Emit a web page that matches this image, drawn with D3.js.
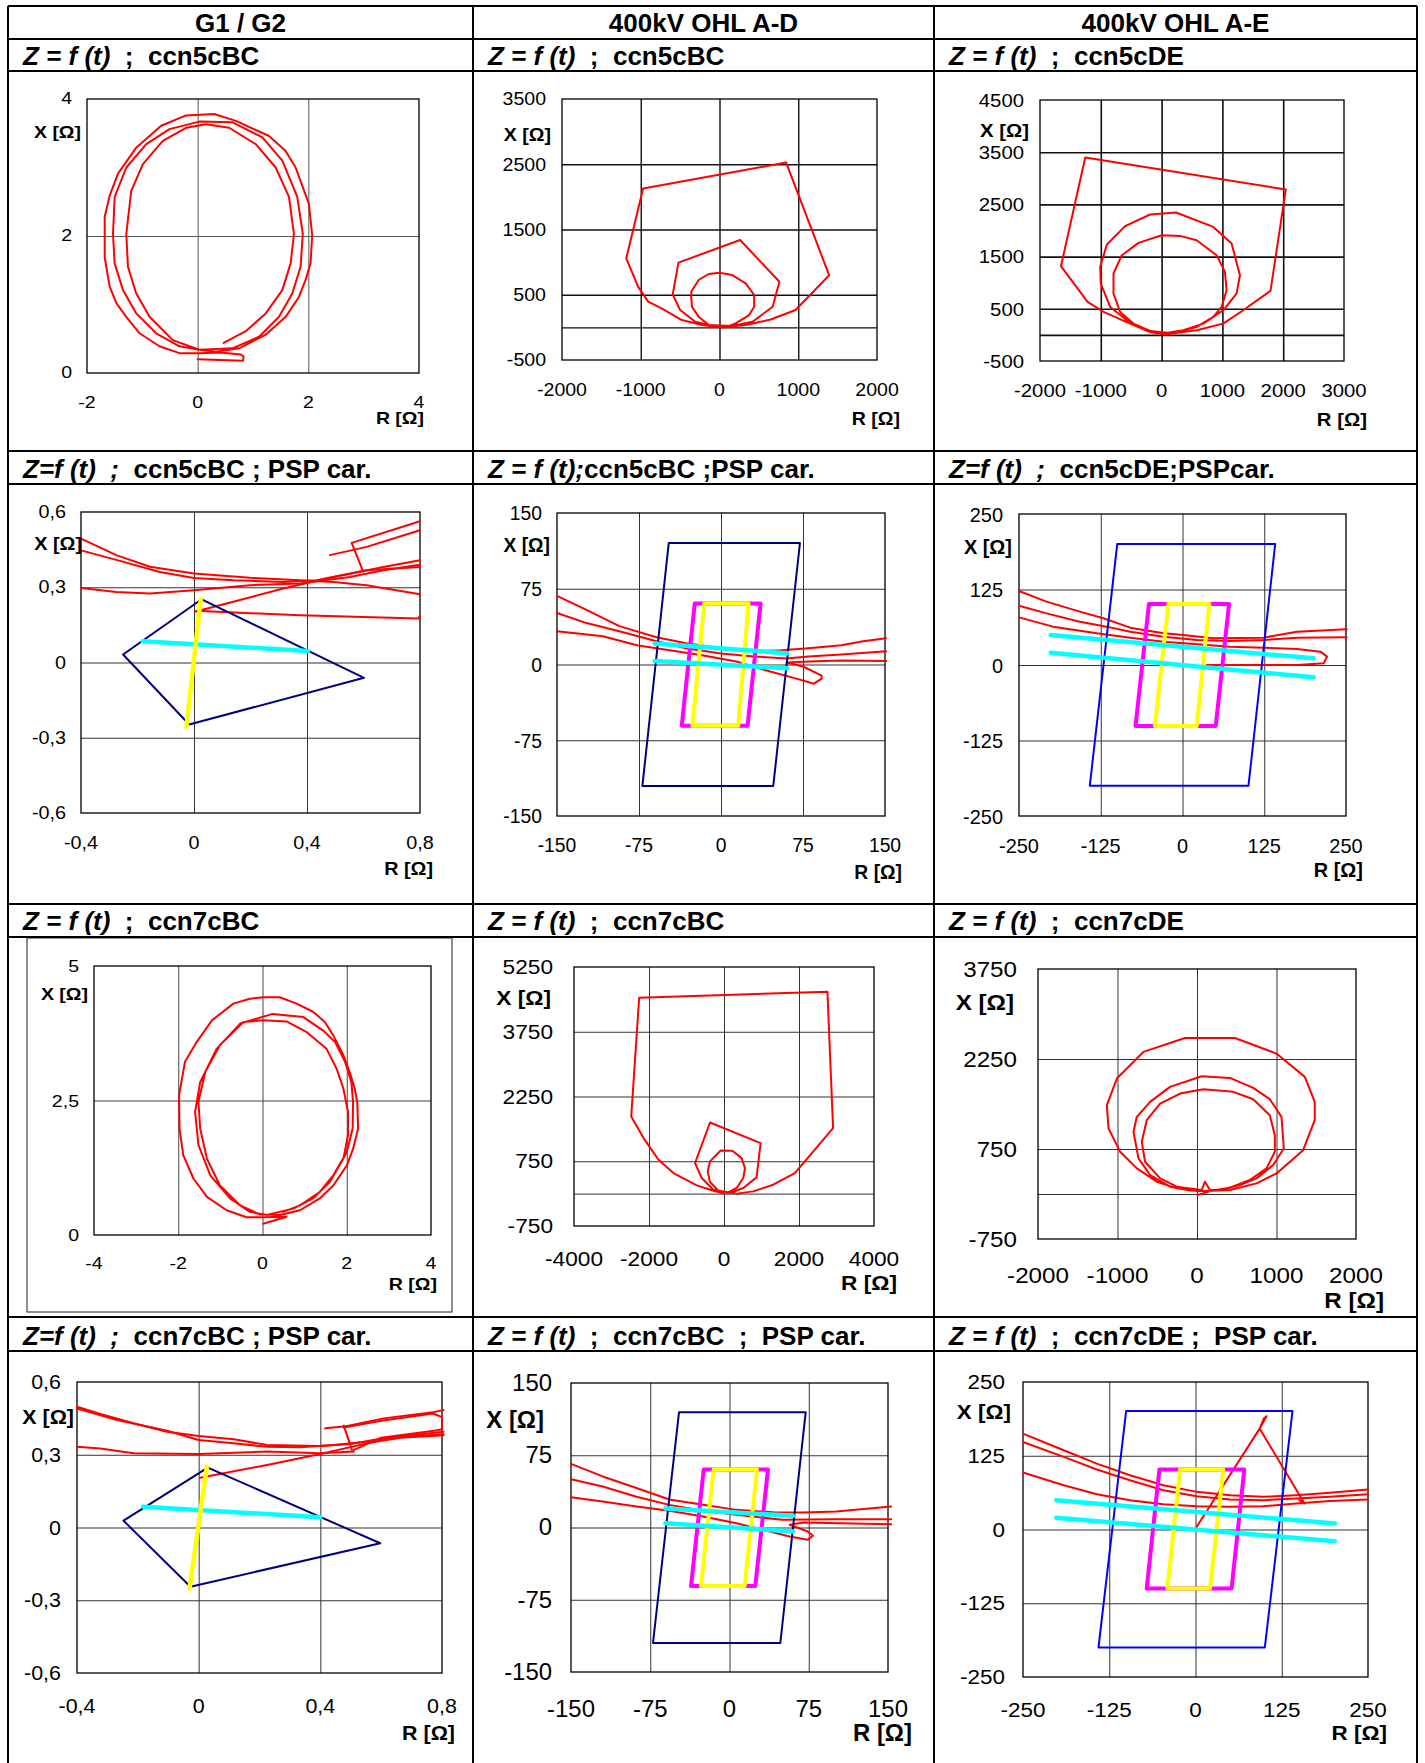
<!DOCTYPE html>
<html lang="en">
<head>
<meta charset="UTF-8">
<title>Z = f (t)</title>
<script src="https://d3js.org/d3.v7.min.js"></script>
<style>
  body { margin: 0; background: #fff; }
  svg text { font-family: "Liberation Sans", Arial, sans-serif; fill: #000; }
</style>
</head>
<body>
<script>
// ---- table texts
const colTitles = ["G1 / G2", "400kV OHL A-D", "400kV OHL A-E"];
const subTitles = [
  ["Z = f (t)", "  ;  ccn5cBC"], ["Z = f (t)", "  ;  ccn5cBC"], ["Z = f (t)", "  ;  ccn5cDE"],
  ["Z=f (t)  ;", "  ccn5cBC ; PSP car."], ["Z = f (t);", "ccn5cBC ;PSP car."], ["Z=f (t)  ;", "  ccn5cDE;PSPcar."],
  ["Z = f (t)", "  ;  ccn7cBC"], ["Z = f (t)", "  ;  ccn7cBC"], ["Z = f (t)", "  ;  ccn7cDE"],
  ["Z=f (t)  ;", "  ccn7cBC ; PSP car."], ["Z = f (t)", "  ;  ccn7cBC  ;  PSP car."], ["Z = f (t)", "  ;  ccn7cDE ;  PSP car."]
];

// ---- tick values
const p11_xTicks = [-2, 0, 2, 4],            p11_yTicks = [0, 2, 4];
const p12_xTicks = [-2000, -1000, 0, 1000, 2000], p12_yTicks = [-500, 500, 1500, 2500, 3500];
const p13_xTicks = [-2000, -1000, 0, 1000, 2000, 3000], p13_yTicks = [-500, 500, 1500, 2500, 3500, 4500];
const psp1_xTicks = [-0.4, 0, 0.4, 0.8],      psp1_yTicks = [-0.6, -0.3, 0, 0.3, 0.6];
const psp2_ticks = [-150, -75, 0, 75, 150];
const psp3_ticks = [-250, -125, 0, 125, 250];
const p31_xTicks = [-4, -2, 0, 2, 4],         p31_yTicks = [0, 2.5, 5];
const p32_xTicks = [-4000, -2000, 0, 2000, 4000], p32_yTicks = [-750, 750, 2250, 3750, 5250];
const p33_xTicks = [-2000, -1000, 0, 1000, 2000], p33_yTicks = [-750, 750, 2250, 3750];

// ---- impedance trajectories [R, X]
const p11_z = [[0,0.20],[0.82,0.18],[0.83,0.24],[0.78,0.27],[0.4,0.30],[0.03,0.29],
  [-0.33,0.29],[-0.69,0.39],[-1.05,0.58],[-1.29,0.82],[-1.47,1.02],[-1.59,1.26],[-1.68,1.69],[-1.68,2.28],[-1.59,2.59],[-1.44,2.91],[-1.11,3.29],[-0.66,3.61],[-0.21,3.76],[0.3,3.78],[0.69,3.68],[1.29,3.46],[1.59,3.24],[1.77,3.0],[2.01,2.47],[2.07,2.01],[2.04,1.6],[1.95,1.36],[1.83,1.11],[1.59,0.82],[1.23,0.56],[0.75,0.36],[0.33,0.31],
  [0.03,0.34],[-0.33,0.39],[-0.75,0.58],[-1.11,0.87],[-1.35,1.21],[-1.5,1.6],[-1.53,2.03],[-1.5,2.57],[-1.29,3.0],[-0.93,3.34],[-0.51,3.56],[0.03,3.67],[0.63,3.66],[1.17,3.44],[1.53,3.1],[1.8,2.57],[1.9,2.03],[1.86,1.55],[1.71,1.16],[1.47,0.82],[1.11,0.53],[0.63,0.36],
  [0.03,0.34],[-0.45,0.48],[-0.87,0.82],[-1.11,1.16],[-1.26,1.55],[-1.29,2.03],[-1.2,2.66],[-0.99,3.05],[-0.63,3.39],[-0.21,3.58],[0.15,3.63],[0.57,3.58],[1.05,3.34],[1.41,3.0],[1.65,2.57],[1.74,2.03],[1.68,1.6],[1.53,1.21],[1.23,0.87],[0.87,0.61],[0.47,0.44]];

const p12_z = [[0,0],[-222,36],[-479,112],[-735,291],[-906,394],[-1034,624],[-1184,1058],[-970,2127],[846,2526],[1393,798],[966,266],[650,120],[350,40],[60,0],
  [-51,10],[-308,87],[-500,266],[-594,506],[-521,992],[261,1340],[761,700],[675,317],[419,87],[162,20],
  [-137,36],[-265,164],[-350,317],[-359,470],[-359,547],[-265,726],[-137,818],[0,838],[162,802],[333,675],[440,496],[440,317],[376,189],[205,61],[77,0]];

const p13_z = [[29,12],[-189,56],[-518,216],[-955,440],[-1218,632],[-1655,1316],[-1256,3400],[2043,2786],[1791,843],[1342,472],[1014,216],[577,88],[139,24],
  [-244,88],[-572,280],[-846,536],[-1000,983],[-1010,1303],[-900,1731],[-600,2083],[-189,2307],[237,2345],[850,2069],[1151,1751],[1288,1143],[1233,791],[1014,472],[686,216],[358,88],[100,40],
  [-189,75],[-463,216],[-682,440],[-791,792],[-791,1176],[-654,1527],[-380,1763],[2,1910],[303,1897],[577,1814],[905,1526],[1042,1207],[1069,855],[987,536],[850,344],[577,152],[249,56],[50,10]];

const p31_z = [[0.49,0.43],[0.89,0.55],[1.36,0.8],[1.68,1.11],[2,1.54],[2.14,1.98],[2.15,2.47],[2.11,2.84],[1.96,3.22],[1.72,3.59],[1.44,3.8],[0.97,4.05],[0.24,4.11],[-0.53,3.93],[-1.09,3.46],[-1.48,2.84],[-1.6,2.29],[-1.52,1.67],[-1.24,1.11],[-0.77,0.68],[-0.3,0.43],[0.1,0.37],[0.73,0.49],
  [1.2,0.68],[1.6,0.99],[1.92,1.42],[2.03,1.85],[2.03,2.29],[1.92,2.72],[1.76,3.09],[1.52,3.46],[1.05,3.77],[0.57,3.97],[0.02,3.99],[-0.45,3.96],[-1.01,3.53],[-1.36,3.03],[-1.52,2.47],[-1.48,1.98],[-1.32,1.42],[-1.01,0.92],[-0.53,0.55],[-0.06,0.38],[0.41,0.37],
  [0.89,0.46],[1.36,0.68],[1.68,0.92],[2,1.29],[2.15,1.6],[2.27,1.98],[2.25,2.47],[2.19,2.72],[2.07,3.03],[1.92,3.34],[1.68,3.71],[1.48,3.96],[1.2,4.15],[0.81,4.3],[0.41,4.42],[0.02,4.42],[-0.3,4.39],[-0.69,4.3],[-1.2,3.99],[-1.56,3.59],[-1.84,3.22],[-1.98,2.6],[-1.97,1.98],[-1.88,1.48],[-1.64,1.05],[-1.32,0.71],[-0.85,0.46],[-0.38,0.33],[0.02,0.33],[0.57,0.34],[0.02,0.21]];

const p32_z = [[0,0],[-284,68],[-727,192],[-1348,477],[-1747,785],[-2146,1286],[-2474,1787],[-2262,4540],[2758,4679],[2909,1517],[1889,477],[1313,207],[780,52],[337,0],
  [-284,91],[-594,361],[-772,709],[-373,1648],[976,1170],[869,377],[514,130],[160,13],
  [-151,68],[-373,268],[-435,515],[-373,746],[-89,1000],[222,992],[470,823],[559,592],[514,361],[337,130],[71,13]];

const p33_z = [[121,49],[-4,49],[-255,94],[-506,205],[-757,427],[-967,704],[-1113,1093],[-1134,1481],[-1008,1924],[-674,2368],[-151,2601],[477,2601],[1000,2340],[1356,1952],[1481,1536],[1481,1231],[1335,731],[1000,343],[749,177],[414,66],[121,49],
  [-88,60],[-339,122],[-590,316],[-736,593],[-799,1037],[-757,1286],[-590,1535],[-339,1785],[59,1963],[414,1935],[707,1768],[916,1580],[1063,1286],[1092,759],[958,482],[749,260],[540,149],[289,66],[163,66],[100,205],[59,66],
  [-255,122],[-464,260],[-653,537],[-695,870],[-632,1231],[-464,1508],[-213,1674],[79,1747],[456,1703],[707,1580],[916,1314],[979,981],[979,704],[874,427],[665,233],[414,105],[200,60],[8,-17]];

// ---- PSP characteristic panels, generator side
const p21_red1 = [[-0.4,0.494],[-0.275,0.428],[-0.156,0.382],[0,0.355],[0.198,0.338],[0.375,0.328],[0.493,0.321],[0.611,0.308],[0.8,0.272]];
const p21_red2 = [[-0.4,0.447],[-0.275,0.409],[-0.121,0.361],[0,0.337],[0.139,0.328],[0.316,0.321],[0.434,0.328],[0.552,0.354],[0.67,0.381],[0.8,0.408]];
const p21_red3 = [[-0.4,0.297],[-0.275,0.281],[-0.156,0.275],[0,0.288],[0.198,0.308],[0.375,0.315],[0.552,0.341],[0.67,0.368],[0.8,0.39]];
const p21_red4 = [[0.003,0.202],[0.139,0.242],[0.316,0.295],[0.493,0.341],[0.611,0.368],[0.8,0.381]];
const p21_red5 = [[0.009,0.206],[0.375,0.188],[0.794,0.175],[0.8,0.185]];
const p21_red6 = [[0.481,0.428],[0.611,0.461],[0.8,0.527]];
const p21_red7 = [[0.599,0.362],[0.558,0.477],[0.8,0.563]];
const p21_zone = [[-0.251,0.032],[0.027,0.252],[0.602,-0.061],[-0.017,-0.247],[-0.251,0.032]];
const p21_cyan = [[-0.182,0.085],[0.404,0.046]];
const p21_yellow = [[0.024,0.252],[-0.027,-0.256]];

const p41_red1 = [[-0.4,0.498],[-0.323,0.468],[-0.214,0.43],[-0.104,0.395],[0,0.377],[0.115,0.364],[0.225,0.34],[0.4,0.336],[0.499,0.344],[0.608,0.368],[0.805,0.385]];
const p41_red2 = [[-0.4,0.491],[-0.268,0.443],[-0.104,0.399],[0,0.361],[0.115,0.347],[0.225,0.333],[0.334,0.331],[0.444,0.34],[0.553,0.354],[0.663,0.375],[0.805,0.395]];
const p41_red3 = [[-0.4,0.333],[-0.323,0.326],[-0.214,0.306],[0,0.303],[0.225,0.313],[0.4,0.306],[0.51,0.313]];
const p41_red4 = [[0.005,0.205],[0.225,0.258],[0.4,0.303],[0.553,0.347],[0.663,0.37],[0.805,0.38]];
const p41_red5 = [[0.416,0.409],[0.477,0.416],[0.608,0.45],[0.77,0.475],[0.805,0.484]];
const p41_red6 = [[0.477,0.42],[0.504,0.32]];
const p41_red7 = [[0.477,0.412],[0.6,0.44],[0.77,0.47],[0.8,0.455],[0.8,0.405],[0.78,0.4],[0.6,0.37],[0.51,0.32]];
const p41_zone = [[-0.247,0.028],[0.03,0.247],[0.597,-0.065],[-0.027,-0.244],[-0.247,0.028]];
const p41_cyan = [[-0.183,0.086],[0.4,0.042]];
const p41_yellow = [[0.027,0.251],[-0.03,-0.251]];

// ---- PSP characteristic panels, line A-D
const p22_red1 = [[-150,68],[-123,54],[-93,38],[-59,27],[-32,21],[0,16],[30,13],[55,14],[80,16],[110,19],[130,23],[151,26]];
const p22_red2 = [[-150,51],[-123,41],[-93,33],[-59,23],[-32,16],[0,11],[30,8],[60,6],[80,8],[110,10],[151,13]];
const p22_red3 = [[-150,33],[-108,28],[-77,19],[-47,14],[-16,9],[14,3],[45,-7],[69,-14],[85,-19],[92,-14],[92,-11],[75,-2],[60,2],[80,3],[110,4],[151,3.5]];
const p22_zone = [[-47.8,120.2],[72.2,120.2],[47.8,-120.2],[-71.9,-120.2],[-47.8,120.2]];
const p22_mag = [[-24,60.4],[36.2,60.4],[24.3,-60.7],[-35.9,-60.7],[-24,60.4]];
const p22_yel = [[-15.4,60.4],[25.2,60.4],[15.7,-60.7],[-26.1,-60.7],[-15.4,60.4]];
const p22_cyan1 = [[-60.6,20.7],[60.6,11.1]];
const p22_cyan2 = [[-60.6,3.5],[60.6,-3.8]];

const p42_red1 = [[-150,66],[-120,53],[-88,41],[-57,29],[-25,23.5],[6.5,18.3],[44,15.6],[70,15.6],[101,16.6],[153,21.8]];
const p42_red2 = [[-150,50],[-120,42.5],[-88,32],[-57,23.5],[-25,17.3],[6.5,13.1],[50,8],[101,8.6],[153,8.6]];
const p42_red3 = [[-150,31.5],[-120,27],[-88,21.8],[-57,17.3],[-25,11.4],[6.5,4.5],[38,-4.1],[57,-9.3],[74,-12.8],[79,-8.6],[74,-4.1],[57,2.8],[70,5.2],[153,3.5]];
const p42_zone = [[-47.8,119.6],[72.1,119.6],[48.1,-119.9],[-72.4,-119.9],[-47.8,119.6]];
const p42_mag = [[-24.4,60.1],[36.4,60.1],[24.4,-60.8],[-36.4,-60.8],[-24.4,60.1]];
const p42_yel = [[-15,60.1],[26,60.1],[14.4,-60.8],[-27,-60.8],[-15,60.1]];
const p42_cyan1 = [[-60.7,19.7],[60.1,12.1]];
const p42_cyan2 = [[-60.7,4.5],[60.1,-4.1]];

// ---- PSP characteristic panels, line A-E
const p23_red1 = [[-250,122.5],[-208,104.9],[-157,88.3],[-121,77.3],[-80,61.8],[-29,52.4],[1,49.7],[47,44.2],[124,45.3],[175,55.2],[251,59]];
const p23_red2 = [[-250,98.2],[-208,85.5],[-157,71.7],[-116,63.5],[-80,55.2],[-29,46.9],[22,41.4],[73,39.7],[124,41.4],[175,45.3],[251,45.8]];
const p23_red3 = [[-250,78.9],[-198,63.5],[-131,52.4],[-80,45.3],[-29,38.6],[22,34.2],[73,30.4],[175,26.5],[211,22.1],[221,13.8],[216,2.8],[175,0],[73,0],[37,0]];
const p23_zone = [[-99.8,200.3],[141.7,200.3],[100.9,-199.8],[-141.7,-199.8],[-99.8,200.3]];
const p23_mag = [[-51.3,101],[71.2,101],[50.8,-101],[-71.8,-101],[-51.3,101]];
const p23_yel = [[-21.7,101],[41.1,101],[21.7,-101],[-42.1,-101],[-21.7,101]];
const p23_cyan1 = [[-201.5,49.7],[200.5,11]];
const p23_cyan2 = [[-201.5,20.4],[200.5,-20.4]];

const p43_red1 = [[-250,162.5],[-191,134.3],[-143,111.7],[-95,92],[-46.5,75],[1.7,63.8],[50,58.1],[98,55.3],[146,58.1],[194.5,62.1],[250,67.7]];
const p43_red2 = [[-250,148.4],[-191,123],[-143,101.6],[-95,83.5],[-46.5,66.6],[1.7,56.4],[50,50.8],[98,49.7],[146,52.5],[194.5,55.3],[250,59.8]];
const p43_red3 = [[-250,96.5],[-191,75],[-143,59.8],[-95,49.7],[-46.5,42.9],[1.7,39.5],[50,38.4],[98,39.5],[146,44],[194.5,48.5],[250,50.8]];
const p43_spike = [[1.7,4.5],[93,171],[103,192],[99,188],[93,171],[158,44],[150,50]];
const p43_zone = [[-100.5,200.9],[140.6,200.9],[100.5,-199.8],[-140.6,-199.8],[-100.5,200.9]];
const p43_mag = [[-52.3,101.6],[70.7,101.6],[52.3,-99.9],[-70.7,-99.9],[-52.3,101.6]];
const p43_yel = [[-22.4,101.6],[40.3,101.6],[21,-99.9],[-40.7,-99.9],[-22.4,101.6]];
const p43_cyan1 = [[-201.8,49.7],[201.9,10.2]];
const p43_cyan2 = [[-201.8,19.8],[201.9,-19.8]];

// ---- drawing
const RED = "#ff0000", NAVY = "#000080", BLUE = "#0000ff", MAG = "#ff00ff", YEL = "#ffff00", CYAN = "#00ffff";
const red = d => ({data: d, color: RED, width: 2});

const svg = d3.select("body").append("svg")
  .attr("width", 1425)
  .attr("height", 1763);

const fmt = v => String(v).replace(".", ",");

function label(g, x, y, s, size, sx, anchor, bold) {
  return g.append("text")
    .attr("transform", `translate(${x},${y}) scale(${sx},1)`)
    .attr("text-anchor", anchor)
    .attr("dominant-baseline", "central")
    .attr("font-size", size)
    .attr("font-weight", bold ? "bold" : "normal")
    .text(s);
}

function drawPanel(p) {
  const x = d3.scaleLinear().domain([p.xTicks[0], p.xTicks[p.xTicks.length - 1]]).range([p.left, p.right]);
  const y = d3.scaleLinear().domain([p.yTicks[0], p.yTicks[p.yTicks.length - 1]]).range([p.bottom, p.top]);
  const w = p.right - p.left, h = p.bottom - p.top;
  const g = svg.append("g");

  if (p.frame) {
    g.append("rect").attr("x", p.frame[0]).attr("y", p.frame[1])
      .attr("width", p.frame[2] - p.frame[0]).attr("height", p.frame[3] - p.frame[1])
      .attr("fill", "none").attr("stroke", "#444").attr("stroke-width", 1.2);
  }

  const xIn = p.xTicks.slice(1, -1);
  let yIn = p.yTicks.slice(1, -1);
  if (!p.yTicks.includes(0) && p.yTicks[0] < 0) yIn = yIn.concat([0]);

  // gridlines
  g.append("g").attr("transform", `translate(0,${p.bottom})`)
    .call(d3.axisBottom(x).tickValues(xIn).tickSize(-h).tickFormat(""))
    .call(a => a.select(".domain").remove())
    .call(a => a.selectAll("text").remove())
    .call(a => a.selectAll("line").attr("stroke", p.grid || "#333").attr("stroke-width", p.gridW || 1));
  g.append("g").attr("transform", `translate(${p.left},0)`)
    .call(d3.axisLeft(y).tickValues(yIn).tickSize(-w).tickFormat(""))
    .call(a => a.select(".domain").remove())
    .call(a => a.selectAll("text").remove())
    .call(a => a.selectAll("line").attr("stroke", p.grid || "#333").attr("stroke-width", p.gridW || 1));

  g.append("rect").attr("x", p.left).attr("y", p.top).attr("width", w).attr("height", h)
    .attr("fill", "none").attr("stroke", "#000").attr("stroke-width", 1.3);

  const line = d3.line().x(d => x(d[0])).y(d => y(d[1]));
  p.series.forEach(s => {
    g.append("path").attr("d", line(s.data))
      .attr("fill", "none").attr("stroke", s.color).attr("stroke-width", s.width)
      .attr("stroke-linejoin", "round").attr("stroke-linecap", "round");
  });

  p.yTicks.forEach(v => label(g, p.yLab, y(v), fmt(v), p.font, p.sx, "end", false));
  p.xTicks.forEach(v => label(g, x(v), p.xLab, fmt(v), p.font, p.sx, "middle", false));
  label(g, p.xName[0], p.xName[1], "X [Ω]", p.font, p.sx, "end", true);
  label(g, p.rName[0], p.rName[1], "R [Ω]", p.font, p.sx, "end", true);
}

const panels = [
  {left: 87, right: 419, top: 99, bottom: 373, xTicks: p11_xTicks, yTicks: p11_yTicks, font: 16, sx: 1.22, grid: "#555",
   yLab: 72, xLab: 403, xName: [81, 133], rName: [424, 419], series: [red(p11_z)]},
  {left: 562, right: 877, top: 99, bottom: 360, xTicks: p12_xTicks, yTicks: p12_yTicks, font: 19, sx: 1.03, gridW: 1.4, grid: "#111",
   yLab: 546, xLab: 390, xName: [551, 135], rName: [900, 419], series: [red(p12_z)]},
  {left: 1040, right: 1344, top: 100, bottom: 361, xTicks: p13_xTicks, yTicks: p13_yTicks, font: 19, sx: 1.07, gridW: 1.6, grid: "#111",
   yLab: 1024, xLab: 390, xName: [1029, 130], rName: [1367, 419], series: [red(p13_z)]},

  {left: 81, right: 420, top: 512, bottom: 813, xTicks: psp1_xTicks, yTicks: psp1_yTicks, font: 18, sx: 1.1,
   yLab: 66, xLab: 843, xName: [82, 544], rName: [433, 869],
   series: [red(p21_red1), red(p21_red2), red(p21_red3), red(p21_red4), red(p21_red5), red(p21_red6), red(p21_red7),
     {data: p21_zone, color: NAVY, width: 2}, {data: p21_cyan, color: CYAN, width: 4.5}, {data: p21_yellow, color: YEL, width: 4.5}]},
  {left: 557, right: 885, top: 513, bottom: 816, xTicks: psp2_ticks, yTicks: psp2_ticks, font: 21, sx: 0.92,
   yLab: 542, xLab: 845, xName: [550, 545], rName: [902, 872],
   series: [red(p22_red1), red(p22_red2), red(p22_red3), {data: p22_zone, color: NAVY, width: 2},
     {data: p22_mag, color: MAG, width: 4}, {data: p22_yel, color: YEL, width: 4},
     {data: p22_cyan1, color: CYAN, width: 4.5}, {data: p22_cyan2, color: CYAN, width: 4.5}]},
  {left: 1019, right: 1346, top: 514, bottom: 816, xTicks: psp3_ticks, yTicks: psp3_ticks, font: 21, sx: 0.95,
   yLab: 1003, xLab: 845, xName: [1012, 546], rName: [1363, 869],
   series: [red(p23_red1), red(p23_red2), red(p23_red3), {data: p23_zone, color: BLUE, width: 2},
     {data: p23_mag, color: MAG, width: 4}, {data: p23_yel, color: YEL, width: 4},
     {data: p23_cyan1, color: CYAN, width: 4.5}, {data: p23_cyan2, color: CYAN, width: 4.5}]},

  {left: 94, right: 431, top: 966, bottom: 1235, xTicks: p31_xTicks, yTicks: p31_yTicks, font: 17, sx: 1.15, grid: "#444",
   yLab: 79, xLab: 1263, xName: [88, 994], rName: [437, 1284], frame: [27, 938, 452, 1312], series: [red(p31_z)]},
  {left: 574, right: 874, top: 967, bottom: 1226, xTicks: p32_xTicks, yTicks: p32_yTicks, font: 21, sx: 1.08,
   yLab: 553, xLab: 1259, xName: [551, 998], rName: [897, 1283], series: [red(p32_z)]},
  {left: 1038, right: 1356, top: 969, bottom: 1239, xTicks: p33_xTicks, yTicks: p33_yTicks, font: 22, sx: 1.1,
   yLab: 1017, xLab: 1275, xName: [1014, 1002], rName: [1384, 1300], series: [red(p33_z)]},

  {left: 77, right: 442, top: 1382, bottom: 1673, xTicks: psp1_xTicks, yTicks: psp1_yTicks, font: 19.5, sx: 1.1,
   yLab: 61, xLab: 1706, xName: [74, 1417], rName: [455, 1733],
   series: [red(p41_red1), red(p41_red2), red(p41_red3), red(p41_red4), red(p41_red5), red(p41_red6), red(p41_red7),
     {data: p41_zone, color: NAVY, width: 2}, {data: p41_cyan, color: CYAN, width: 4.5}, {data: p41_yellow, color: YEL, width: 4.5}]},
  {left: 571, right: 888, top: 1383, bottom: 1672, xTicks: psp2_ticks, yTicks: psp2_ticks, font: 23, sx: 1.04,
   yLab: 552, xLab: 1709, xName: [544, 1420], rName: [912, 1733],
   series: [red(p42_red1), red(p42_red2), red(p42_red3), {data: p42_zone, color: NAVY, width: 2},
     {data: p42_mag, color: MAG, width: 4}, {data: p42_yel, color: YEL, width: 4},
     {data: p42_cyan1, color: CYAN, width: 4.5}, {data: p42_cyan2, color: CYAN, width: 4.5}]},
  {left: 1023, right: 1368, top: 1382, bottom: 1677, xTicks: psp3_ticks, yTicks: psp3_ticks, font: 21, sx: 1.07,
   yLab: 1005, xLab: 1710, xName: [1011, 1412], rName: [1387, 1733],
   series: [red(p43_red1), red(p43_red2), red(p43_red3), red(p43_spike), {data: p43_zone, color: BLUE, width: 2},
     {data: p43_mag, color: MAG, width: 4}, {data: p43_yel, color: YEL, width: 4},
     {data: p43_cyan1, color: CYAN, width: 4.5}, {data: p43_cyan2, color: CYAN, width: 4.5}]}
];

panels.forEach(drawPanel);

// ---- table grid
const colX = [8, 473, 934, 1417];
const rowLines = [6, 39, 71, 451, 484, 904, 937, 1317, 1351];
const tbl = svg.append("g").attr("stroke", "#000").attr("stroke-width", 2);
colX.forEach(cx => tbl.append("line").attr("x1", cx).attr("x2", cx).attr("y1", 6).attr("y2", 1763));
rowLines.forEach(ry => tbl.append("line").attr("x1", 8).attr("x2", 1417).attr("y1", ry).attr("y2", ry));

colTitles.forEach((t, i) => {
  svg.append("text")
    .attr("x", (colX[i] + colX[i + 1]) / 2).attr("y", 32)
    .attr("text-anchor", "middle").attr("font-size", 26).attr("font-weight", "bold")
    .text(t);
});

const subBase = [65, 478, 930, 1345];
subTitles.forEach((s, i) => {
  const r = Math.floor(i / 3), c = i % 3;
  const t = svg.append("text")
    .attr("x", colX[c] + 15).attr("y", subBase[r])
    .attr("font-size", 26).attr("font-weight", "bold")
    .attr("xml:space", "preserve").style("white-space", "pre");
  t.append("tspan").attr("font-style", "italic").text(s[0]);
  t.append("tspan").text(s[1]);
});
</script>
</body>
</html>
